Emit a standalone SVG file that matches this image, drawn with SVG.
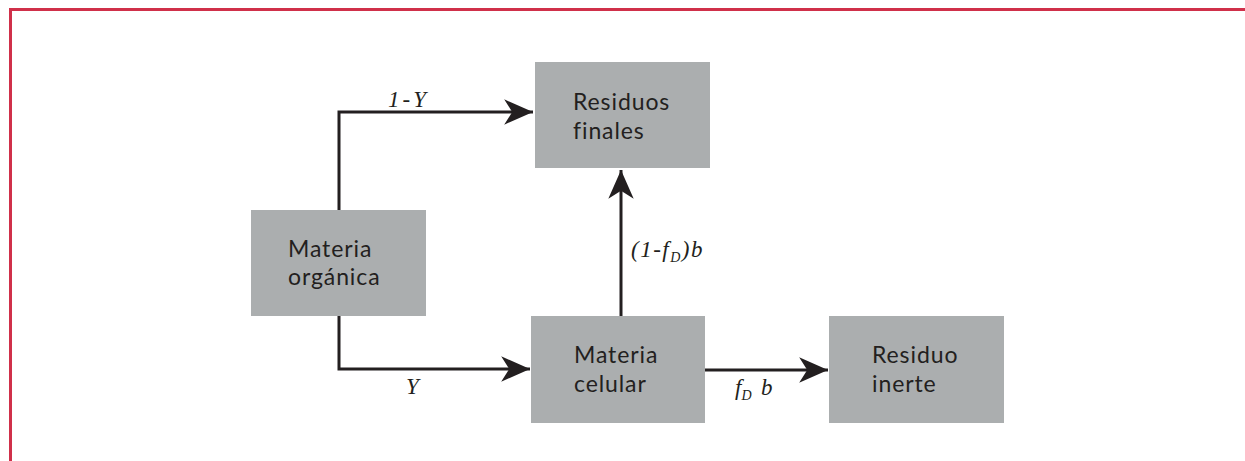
<svg xmlns="http://www.w3.org/2000/svg" width="1245" height="461" viewBox="0 0 1245 461">
<style>
.box{fill:#abaeaf}
.bt{font-family:Lato,"Noto Sans",sans-serif;font-size:23px;letter-spacing:0.9px;fill:#231f20}
.lb{font-family:"Liberation Serif",serif;font-style:italic;font-size:23px;fill:#231f20}
.sub{font-size:14px}
.ln{fill:none;stroke:#231f20;stroke-width:3}
</style>
<defs>
<marker id="arr" markerUnits="userSpaceOnUse" markerWidth="30" markerHeight="26" refX="25" refY="11" orient="auto" viewBox="0 0 26 22">
<path d="M25,11 L0,0 L7,11 L0,22 Z" fill="#231f20"/>
</marker>
</defs>
<rect width="1245" height="461" fill="#fff"/>
<path d="M10.5,461 V9.5 H1245" fill="none" stroke="#d0304a" stroke-width="3"/>
<g id="connectors">
<path class="ln" d="M339,210 V112 H533" marker-end="url(#arr)"/>
<path class="ln" d="M339,316 V369 H530" marker-end="url(#arr)"/>
<path class="ln" d="M621,316 V170" marker-end="url(#arr)"/>
<path class="ln" d="M705,370 H828" marker-end="url(#arr)"/>
<text class="lb" x="388" y="107" letter-spacing="3">1-Y</text>
<text class="lb" x="406" y="394">Y</text>
<text class="lb" x="631" y="257" letter-spacing="1.5">(1-f<tspan class="sub" dy="5">D</tspan><tspan dy="-5">)b</tspan></text>
<text class="lb" x="735" y="395">f<tspan class="sub" dy="5">D</tspan><tspan x="761" dy="-5">b</tspan></text>
</g>
<g id="materia-organica">
<rect class="box" x="251" y="210" width="175" height="106"/>
<text class="bt" x="288" y="257">Materia</text>
<text class="bt" x="288" y="285">orgánica</text>
</g>
<g id="residuos-finales">
<rect class="box" x="535" y="62" width="175" height="106"/>
<text class="bt" x="573" y="110">Residuos</text>
<text class="bt" x="573" y="139">finales</text>
</g>
<g id="materia-celular">
<rect class="box" x="531" y="316" width="174" height="107"/>
<text class="bt" x="574" y="363">Materia</text>
<text class="bt" x="574" y="392">celular</text>
</g>
<g id="residuo-inerte">
<rect class="box" x="829" y="316" width="175" height="107"/>
<text class="bt" x="872" y="363">Residuo</text>
<text class="bt" x="872" y="392">inerte</text>
</g>
</svg>
